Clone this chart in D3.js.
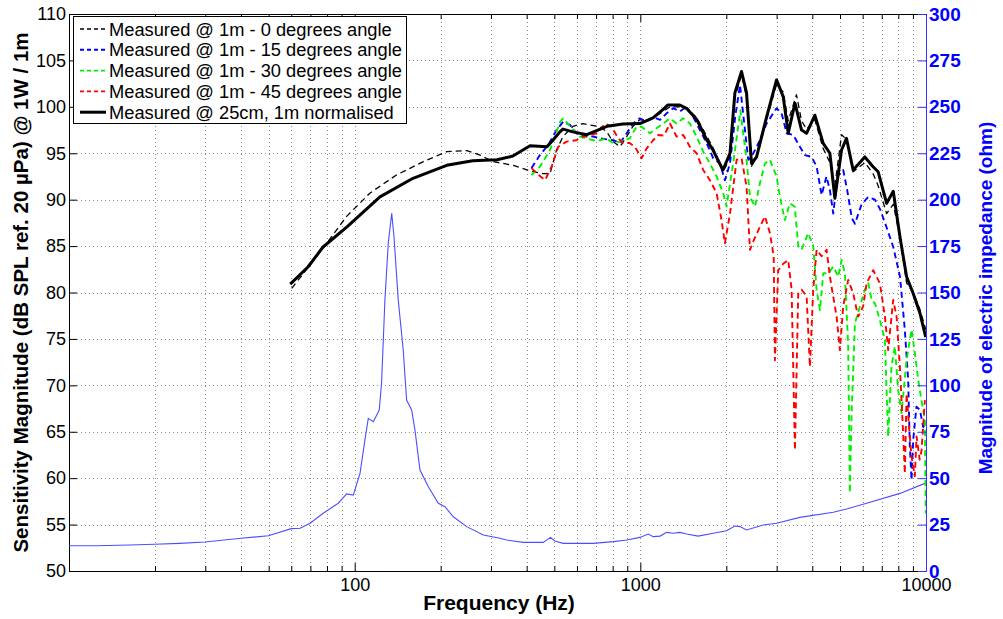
<!DOCTYPE html>
<html>
<head>
<meta charset="utf-8">
<script src="https://cdn.jsdelivr.net/npm/d3@7"></script>
<style>
  body { margin: 0; background: #fff; }
  svg { display: block; font-family: "Liberation Sans", Arial, sans-serif; }
</style>
</head>
<body>
<div id="chart-area"></div>
<script>

// ---- data: [frequency Hz, value] ----
var measured0 = [[60.2,80.45],[69.8,82.96],[79.8,85.3],[93.7,88.2],[113,90.7],[140,92.66],[174,94.1],[210,95.17],[247,95.28],[275,94.8],[305,94.1],[359,93.7],[411,93.1],[457,92.8],[483,92.8],[509,95.35],[536,96.8],[581,97.9],[630,98.2],[666,98.05],[722,97.86],[763,97.3],[802,96.25],[849,95.7],[896,96.8],[942,97.9],[995,98.6],[1081,98.6],[1172,99.3],[1270,100.0],[1375,100.0],[1455,99.9],[1578,98.8],[1710,96.8],[1796,95.6],[1946,93.0],[2060,94.5],[2143,101.0],[2261,103.5],[2354,101.0],[2450,93.6],[2552,94.5],[2766,98.6],[2998,102.4],[3163,101.6],[3294,98.5],[3520,101.3],[3667,98.5],[3819,97.6],[4083,98.6],[4367,95.5],[4608,94.0],[4798,91.5],[5062,97.0],[5268,96.5],[5557,93.0],[6107,94.0],[6528,92.8],[6800,91.5],[7281,88.5],[7680,89.5],[8106,86.0],[8553,81.0],[9020,80.0],[9517,78.2],[9980,76.0]];

var measured15 = [[416,93.4],[445,94.8],[476,95.9],[509,97.5],[537,98.4],[567,98.05],[598,97.15],[631,96.8],[684,96.8],[722,96.6],[804,96.4],[849,96.1],[896,97.15],[944,98.2],[995,98.76],[1051,98.4],[1109,98.9],[1172,98.6],[1236,99.3],[1304,99.85],[1375,99.5],[1452,100.0],[1532,98.9],[1617,97.5],[1706,96.1],[1800,94.46],[1900,93.9],[1977,92.1],[2060,93.9],[2150,99.0],[2233,102.35],[2386,94.3],[2449,94.6],[2622,96.4],[2766,98.2],[2998,99.85],[3123,99.3],[3252,97.15],[3430,96.97],[3619,95.7],[3770,94.8],[3981,94.6],[4142,93.55],[4311,90.5],[4483,92.5],[4610,91.0],[4735,88.5],[4900,92.5],[5131,93.2],[5300,91.0],[5500,88.0],[5640,87.4],[5950,89.5],[6279,90.3],[6627,90.0],[6900,89.0],[7280,87.0],[7680,84.9],[8110,81.7],[8430,76.0],[8660,70.6],[8780,63.4],[8900,59.8],[9020,64.1],[9260,67.7],[9520,67.35],[9780,65.5],[9970,65.9]];

var measured30 = [[416,92.66],[445,93.55],[483,95.35],[524,98.4],[537,98.76],[575,97.7],[614,96.8],[648,96.6],[684,96.4],[722,96.4],[760,96.6],[804,96.1],[849,96.25],[918,96.6],[970,97.86],[1010,97.86],[1081,97.15],[1140,97.7],[1203,98.2],[1270,98.76],[1339,98.2],[1413,98.76],[1491,98.2],[1573,96.8],[1660,95.17],[1752,93.9],[1849,92.5],[1951,90.7],[2003,89.25],[2113,93.9],[2240,99.6],[2354,94.3],[2420,90.3],[2519,89.25],[2622,91.77],[2730,93.9],[2840,94.3],[2998,92.5],[3081,90.3],[3206,87.8],[3336,89.6],[3471,89.25],[3573,85.0],[3667,84.6],[3870,86.4],[4030,85.0],[4140,80.3],[4253,78.1],[4370,82.07],[4550,82.07],[4735,82.8],[4930,81.7],[5065,83.5],[5200,82.07],[5340,74.2],[5414,58.4],[5490,67.0],[5640,76.7],[5870,78.5],[6110,80.3],[6280,81.0],[6450,79.2],[6630,78.8],[6900,77.0],[7180,74.9],[7370,64.5],[7570,72.0],[7780,74.2],[7990,69.5],[8210,67.0],[8550,72.7],[8900,76.0],[9140,73.5],[9390,70.6],[9640,68.4],[9910,66.3],[9980,56.2]];

var measured45 = [[416,93.4],[440,92.66],[464,92.1],[489,93.55],[516,95.7],[552,96.25],[598,96.4],[631,96.8],[703,97.15],[752,98.2],[793,97.86],[837,96.6],[871,96.1],[918,96.1],[957,95.7],[1010,94.46],[1051,95.5],[1109,96.4],[1155,96.97],[1210,96.9],[1270,98.2],[1339,96.8],[1413,96.97],[1491,95.7],[1573,95.0],[1660,93.2],[1752,92.1],[1849,90.7],[1924,87.8],[1977,85.3],[2060,88.5],[2173,94.3],[2261,94.46],[2354,91.4],[2420,84.6],[2500,85.7],[2588,86.7],[2730,88.2],[2842,86.4],[2930,83.9],[2959,72.7],[3039,82.4],[3164,83.1],[3294,83.5],[3385,80.3],[3477,63.0],[3570,79.9],[3669,80.3],[3820,79.6],[3923,72.0],[4029,80.3],[4141,84.6],[4311,83.9],[4488,84.6],[4609,81.7],[4865,77.4],[4995,73.8],[5130,78.5],[5341,81.35],[5561,79.9],[5789,77.4],[6027,78.5],[6194,81.0],[6533,82.4],[6896,81.0],[7180,77.4],[7373,73.8],[7677,79.2],[7889,77.4],[8101,72.0],[8319,64.8],[8430,60.5],[8551,69.1],[8750,65.0],[8903,62.3],[9140,60.2],[9268,64.5],[9500,62.0],[9650,63.0],[9911,68.4]];

var measured25cm = [[59.5,80.9],[68.6,82.75],[77.5,84.9],[94,87.06],[122.6,90.3],[160,92.3],[210,93.7],[259,94.2],[315,94.3],[358,94.7],[411,95.8],[471,95.7],[494,96.4],[523,97.3],[536,97.6],[581,97.3],[650,97.0],[764,97.9],[869,98.15],[996,98.2],[1107,98.8],[1199,99.7],[1250,100.2],[1375,100.2],[1455,99.8],[1578,98.6],[1710,96.4],[1796,95.35],[1946,93.2],[2060,95.0],[2143,101.5],[2261,103.8],[2354,101.5],[2450,93.9],[2552,94.6],[2766,98.9],[2998,102.9],[3163,101.1],[3294,97.15],[3478,100.4],[3667,97.5],[3819,97.15],[4083,99.1],[4367,96.07],[4608,95.0],[4798,90.15],[5062,95.35],[5268,96.6],[5557,93.2],[6107,94.6],[6528,93.55],[6800,93.0],[7281,89.6],[7680,90.9],[8106,86.0],[8553,81.7],[9020,79.9],[9517,77.8],[9980,75.2]];

// electric impedance, ohm (right axis)
var impedance = [[10,13.6],[12.5,13.6],[16.3,14.0],[19.9,14.4],[24.4,14.9],[29.9,15.6],[40,17.6],[49.9,19.0],[60,22.8],[64.4,23.0],[69.8,25.7],[77.6,31.1],[87.6,36.5],[93.7,41.5],[98.9,40.9],[104.4,52.6],[108.6,70.5],[111.6,82.2],[116.2,80.4],[121.9,86.7],[124.2,101.1],[127.6,145.9],[131.1,176.5],[134.8,192.6],[137.3,180.0],[142.1,145.9],[147.9,119.0],[152.0,92.1],[158.3,86.7],[162.6,75.9],[169.3,54.4],[181.1,45.4],[196.3,36.5],[207.1,34.6],[221.5,29.2],[246.7,23.9],[282,19.4],[322.6,17.6],[340,16.7],[389,15.4],[457,15.4],[485,18.1],[502,16.2],[537,14.9],[684,14.9],[804,15.8],[896,16.7],[996,18.1],[1066,19.9],[1109,18.5],[1172,18.8],[1236,20.8],[1304,20.3],[1375,20.8],[1452,19.9],[1594,18.8],[1800,20.3],[2003,21.7],[2143,24.2],[2232,23.9],[2354,22.1],[2692,24.8],[2998,25.7],[3619,28.9],[4735,31.6],[5270,33.4],[6198,36.5],[8106,41.8],[9910,47.2]];

var legendLabels = ["Measured @ 1m - 0 degrees angle", "Measured @ 1m - 15 degrees angle",
                    "Measured @ 1m - 30 degrees angle", "Measured @ 1m - 45 degrees angle",
                    "Measured @ 25cm, 1m normalised"];
var yTicks = [50,55,60,65,70,75,80,85,90,95,100,105,110];
var yRightTicks = [0,25,50,75,100,125,150,175,200,225,250,275,300];
var xMajor = [100,1000,10000];
var xMinor = [20,30,40,50,60,70,80,90,200,300,400,500,600,700,800,900,2000,3000,4000,5000,6000,7000,8000,9000];

// ---- layout ----
var width = 1003, height = 619;
var L = 69, R = 926, T = 14, B = 571;

var svg = d3.select("#chart-area").append("svg")
    .attr("width", width)
    .attr("height", height);

var x = d3.scaleLog().domain([10, 10000]).range([L, R]);
var y = d3.scaleLinear().domain([50, 110]).range([B, T]);
var yR = d3.scaleLinear().domain([0, 300]).range([B, T]);

// grid (dotted)
var grid = svg.append("g").attr("stroke", "#8c8c8c").attr("stroke-dasharray", "1,3").attr("stroke-width", 1);
grid.selectAll(".gx").data(xMinor.concat([100, 1000])).enter().append("line")
    .attr("x1", d => Math.round(x(d)) + 0.5).attr("x2", d => Math.round(x(d)) + 0.5)
    .attr("y1", T).attr("y2", B);
grid.selectAll(".gy").data(yTicks.slice(1, -1)).enter().append("line")
    .attr("y1", d => Math.round(y(d)) + 0.5).attr("y2", d => Math.round(y(d)) + 0.5)
    .attr("x1", L).attr("x2", R);

// axes
var fmtNone = function() { return ""; };

svg.append("g").attr("transform", "translate(0," + B + ")")
    .call(d3.axisBottom(x).tickValues(xMajor).tickFormat(d3.format("d")).tickSizeInner(-8).tickSizeOuter(0).tickPadding(7))
    .call(g => g.selectAll("text").attr("font-size", 18).attr("fill", "#000"))
    .call(g => g.select(".domain").attr("stroke", "#000"));
svg.append("g").attr("transform", "translate(0," + B + ")")
    .call(d3.axisBottom(x).tickValues(xMinor).tickFormat(fmtNone).tickSizeInner(-5).tickSizeOuter(0))
    .call(g => g.select(".domain").remove());

svg.append("g").attr("transform", "translate(0," + T + ")")
    .call(d3.axisTop(x).tickValues(xMajor).tickFormat(fmtNone).tickSizeInner(-8).tickSizeOuter(0))
    .call(g => g.select(".domain").attr("stroke", "#000"));
svg.append("g").attr("transform", "translate(0," + T + ")")
    .call(d3.axisTop(x).tickValues(xMinor).tickFormat(fmtNone).tickSizeInner(-5).tickSizeOuter(0))
    .call(g => g.select(".domain").remove());

svg.append("g").attr("transform", "translate(" + L + ",0)")
    .call(d3.axisLeft(y).tickValues(yTicks).tickSizeInner(-8).tickSizeOuter(0).tickPadding(3))
    .call(g => g.selectAll("text").attr("font-size", 18).attr("fill", "#000"))
    .call(g => g.select(".domain").attr("stroke", "#000"));

// curves
var line = d3.line().x(d => x(d[0])).y(d => y(d[1]));
var lineR = d3.line().x(d => x(d[0])).y(d => yR(d[1]));

var series = [
  {data: measured0, color: "#000", w: 1.3, dash: "6,4"},
  {data: measured15, color: "#0000ff", w: 1.9, dash: "6,4"},
  {data: measured30, color: "#00f000", w: 1.9, dash: "6,4"},
  {data: measured45, color: "#ff0000", w: 1.9, dash: "6,4"},
  {data: measured25cm, color: "#000", w: 3, dash: null}
];

var plot = svg.append("g");
plot.append("path").datum(impedance)
    .attr("d", lineR).attr("fill", "none")
    .attr("stroke", "#4d4dff").attr("stroke-width", 1.1);

plot.selectAll(".spl").data(series).enter().append("path")
    .attr("class", "spl")
    .attr("d", d => line(d.data))
    .attr("fill", "none")
    .attr("stroke", d => d.color)
    .attr("stroke-width", d => d.w)
    .attr("stroke-dasharray", d => d.dash)
    .attr("stroke-linejoin", "round");

// right axis (impedance)
svg.append("g").attr("transform", "translate(" + R + ",0)")
    .call(d3.axisRight(yR).tickValues(yRightTicks).tickSizeInner(-8).tickSizeOuter(0).tickPadding(3))
    .call(g => g.selectAll("line").attr("stroke", "#3333ff"))
    .call(g => g.select(".domain").attr("stroke", "#3333ff"))
    .call(g => g.selectAll("text").attr("font-size", 19).attr("font-weight", "bold").attr("fill", "#0000ff"));

// axis titles
svg.append("text")
    .attr("x", 499).attr("y", 610)
    .attr("text-anchor", "middle")
    .attr("font-size", 21).attr("font-weight", "bold")
    .text("Frequency (Hz)");

svg.append("text")
    .attr("transform", "translate(28," + (T + B) / 2 + ") rotate(-90)")
    .attr("text-anchor", "middle")
    .attr("font-size", 20.5).attr("font-weight", "bold")
    .text("Sensitivity Magnitude (dB SPL ref. 20 \u00b5Pa) @ 1W / 1m");

svg.append("text")
    .attr("transform", "translate(992,298) rotate(-90)")
    .attr("text-anchor", "middle")
    .attr("font-size", 19).attr("font-weight", "bold")
    .attr("fill", "#0000ff")
    .text("Magnitude of electric impedance (ohm)");

// legend
var leg = svg.append("g");
leg.append("rect").attr("x", 73.5).attr("y", 16.5).attr("width", 333).attr("height", 107)
    .attr("fill", "#fff").attr("stroke", "#000").attr("stroke-width", 1);
var rows = leg.selectAll(".row").data(series).enter().append("g")
    .attr("transform", (d, i) => "translate(0," + (29 + i * 20.8) + ")");
rows.append("line").attr("x1", 80).attr("x2", 106)
    .attr("stroke", d => d.color).attr("stroke-width", d => d.w)
    .attr("stroke-dasharray", d => d.dash ? "4,3" : null);
rows.append("text").attr("x", 109).attr("dy", "0.36em")
    .attr("font-size", 18.3)
    .text((d, i) => legendLabels[i]);

</script>
</body>
</html>
